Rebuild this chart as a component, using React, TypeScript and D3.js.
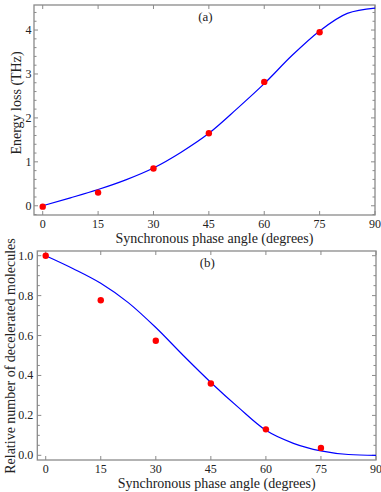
import React from "react";
import * as d3 from "d3";

const xTicks = [0, 15, 30, 45, 60, 75, 90];

// Panel (a): energy loss
const expAngles = [0, 15, 30, 45, 60, 75];
const energyMeasured = [-0.02, 0.3, 0.85, 1.65, 2.82, 3.95];
const curveAngles = [0, 7.5, 15, 22.5, 30, 37.5, 45, 52.5, 60, 67.5, 75, 82.5, 90];
const energyCurve = [0, 0.18, 0.37, 0.59, 0.86, 1.22, 1.65, 2.2, 2.78, 3.42, 3.98, 4.38, 4.5];
const energyTicks = [0, 1, 2, 3, 4];

// Panel (b): relative number of decelerated molecules
const fractionMeasured = [1.0, 0.777, 0.574, 0.36, 0.13, 0.037];
const fractionCurve = [1.0, 0.935, 0.862, 0.765, 0.64, 0.5, 0.365, 0.24, 0.125, 0.06, 0.022, 0.004, 0.0];
const fractionTicks = [0.0, 0.2, 0.4, 0.6, 0.8, 1.0];

const FONT = "Liberation Serif, Tinos, Times New Roman, Times, DejaVu Serif, serif";
const FRAME = "#8a8a8a";

type PanelProps = {
  left: number; right: number; top: number; bottom: number;
  xDomain: [number, number]; yDomain: [number, number];
  yTicks: number[]; yMinorStep: number; yFmt: (v: number) => string; yTickGap: number;
  measured: number[]; curve: number[];
  yLabel: string; yLabelX: number; yLabelY: number; tag: string;
};

function Panel(p: PanelProps) {
  const x = d3.scaleLinear().domain(p.xDomain).range([p.left, p.right]);
  const y = d3.scaleLinear().domain(p.yDomain).range([p.bottom, p.top]);
  const line = d3.line<number>()
    .x((_, i) => x(curveAngles[i]))
    .y((d) => y(d))
    .curve(d3.curveMonotoneX);
  const minor: number[] = [];
  const lo = Math.ceil(p.yDomain[0] / p.yMinorStep);
  const hi = Math.floor(p.yDomain[1] / p.yMinorStep);
  for (let k = lo; k <= hi; k++) minor.push(+(k * p.yMinorStep).toFixed(4));
  const isMajor = (v: number) => p.yTicks.some((t) => Math.abs(t - v) < 1e-6);
  const clipId = "clip-" + p.tag.replace(/[()]/g, "");
  const txt = { fontFamily: FONT };
  return (
    <g>
      <defs>
        <clipPath id={clipId}>
          <rect x={p.left} y={p.top} width={p.right - p.left} height={p.bottom - p.top} />
        </clipPath>
      </defs>
      <rect x={p.left} y={p.top} width={p.right - p.left} height={p.bottom - p.top}
        fill="none" stroke={FRAME} strokeWidth={1.3} />
      {xTicks.map((t) => (
        <g key={"xt" + t}>
          <line x1={x(t)} x2={x(t)} y1={p.bottom} y2={p.bottom - 4} stroke={FRAME} strokeWidth={1} />
          <line x1={x(t)} x2={x(t)} y1={p.top} y2={p.top + 4} stroke={FRAME} strokeWidth={1} />
          <text x={x(t)} y={p.bottom + 13} textAnchor="middle" style={txt} fontSize={12} fill="#222">{t}</text>
        </g>
      ))}
      {minor.map((v) => {
        const len = isMajor(v) ? 4 : 2.5;
        return (
          <g key={"ym" + v}>
            <line x1={p.left} x2={p.left + len} y1={y(v)} y2={y(v)} stroke={FRAME} strokeWidth={1} />
            <line x1={p.right} x2={p.right - len} y1={y(v)} y2={y(v)} stroke={FRAME} strokeWidth={1} />
          </g>
        );
      })}
      {p.yTicks.map((t) => (
        <text key={"yl" + t} x={p.left - p.yTickGap} y={y(t) + 4} textAnchor="end" style={txt} fontSize={12} fill="#222">{p.yFmt(t)}</text>
      ))}
      <g clipPath={`url(#${clipId})`}>
        <path d={line(p.curve) || ""} fill="none" stroke="#0000ff" strokeWidth={1.2} />
        {p.measured.map((v, i) => (
          <circle key={"pt" + i} cx={x(expAngles[i])} cy={y(v)} r={3.2} fill="#ff0000" />
        ))}
      </g>
      <text x={(p.left + p.right) / 2 + 10} y={p.bottom + 27.5} textAnchor="middle" style={txt} fontSize={14} fill="#222">
        Synchronous phase angle (degrees)
      </text>
      <text transform={`translate(${p.yLabelX},${p.yLabelY}) rotate(-90)`} textAnchor="middle"
        style={txt} fontSize={14} fill="#222">{p.yLabel}</text>
      <text x={x(45) - 3.5} y={p.top + 16} textAnchor="middle" style={txt} fontSize={13} fill="#222">{p.tag}</text>
    </g>
  );
}

export default function App() {
  return (
    <svg width={381} height={492} style={{ position: "absolute", left: 0, top: 0, background: "#fff" }}>
      <Panel left={34} right={375} top={5} bottom={215}
        xDomain={[-2.36, 90]} yDomain={[-0.21, 4.57]}
        yTicks={energyTicks} yMinorStep={0.2} yFmt={(v) => String(v)} yTickGap={2.5}
        measured={energyMeasured} curve={energyCurve}
        yLabel="Energy loss (THz)" yLabelX={20.5} yLabelY={103} tag="(a)" />
      <Panel left={37.3} right={376} top={251} bottom={460}
        xDomain={[-2.29, 90]} yDomain={[-0.0235, 1.0235]}
        yTicks={fractionTicks} yMinorStep={0.05} yFmt={(v) => v.toFixed(1)} yTickGap={4}
        measured={fractionMeasured} curve={fractionCurve}
        yLabel="Relative number of decelerated molecules" yLabelX={15} yLabelY={356} tag="(b)" />
    </svg>
  );
}
